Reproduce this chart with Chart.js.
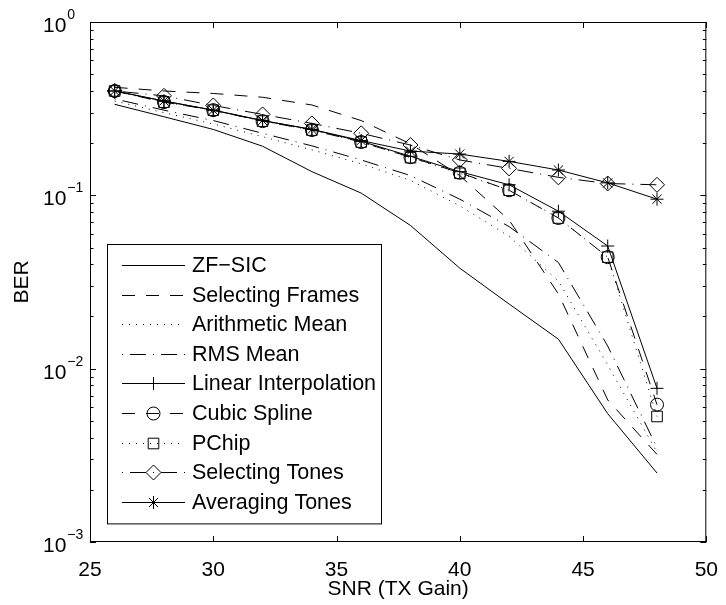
<!DOCTYPE html>
<html>
<head>
<meta charset="utf-8">
<script src="https://cdn.jsdelivr.net/npm/chart.js"></script>
<style>
  html, body { margin: 0; padding: 0; background: #fff; }
  #wrap { width: 726px; height: 605px; }
</style>
</head>
<body>
<div id="wrap"><canvas id="berChart" width="726" height="605"></canvas></div>
<script>
// data
const snr = [26, 28, 30, 32, 34, 36, 38, 40, 42, 44, 46, 48]

const zfSic = [0.335, 0.284, 0.24, 0.192, 0.137, 0.103, 0.067, 0.038, 0.0236, 0.0148, 0.0055, 0.0025]
const selectingFrames = [0.42, 0.40, 0.387, 0.368, 0.332, 0.27, 0.198, 0.13, 0.072, 0.027, 0.0066, 0.0032]
const arithmeticMean = [0.35, 0.30, 0.258, 0.218, 0.183, 0.152, 0.122, 0.087, 0.058, 0.032, 0.0105, 0.0033]
const rmsMean = [0.36, 0.31, 0.27, 0.228, 0.193, 0.16, 0.13, 0.095, 0.066, 0.041, 0.0135, 0.0035]
const linearInterp = [0.40, 0.35, 0.31, 0.27, 0.24, 0.205, 0.168, 0.137, 0.115, 0.081, 0.051, 0.0077]
const cubicSpline = [0.40, 0.345, 0.31, 0.268, 0.238, 0.203, 0.166, 0.135, 0.107, 0.074, 0.044, 0.0062]
const pchip = [0.40, 0.345, 0.31, 0.268, 0.238, 0.203, 0.165, 0.134, 0.107, 0.074, 0.044, 0.0053]
const selectingTones = [0.40, 0.375, 0.33, 0.293, 0.26, 0.228, 0.195, 0.16, 0.143, 0.127, 0.117, 0.115]
const averagingTones = [0.40, 0.35, 0.31, 0.27, 0.24, 0.207, 0.18, 0.173, 0.157, 0.14, 0.118, 0.095]

const seriesNames = [
  'ZF\u2212SIC',
  'Selecting Frames',
  'Arithmetic Mean',
  'RMS Mean',
  'Linear Interpolation',
  'Cubic Spline',
  'PChip',
  'Selecting Tones',
  'Averaging Tones',
]
const seriesValues = [zfSic, selectingFrames, arithmeticMean, rmsMean, linearInterp, cubicSpline, pchip, selectingTones, averagingTones]

const xTicks = [25, 30, 35, 40, 45, 50]
const yDecades = [1, 0.1, 0.01, 0.001]
const yExponents = ['0', '\u22121', '\u22122', '\u22123']

// styles (matlab look)
const FONT = '"Liberation Sans", Arial, Helvetica, sans-serif'
const SOLID = []
const DASH = [13, 11]
const DOT = [1, 6]
const DASHDOT = [1, 7, 16, 7]

const lineStyles = [
  { dash: SOLID, marker: false, radius: 0 },
  { dash: DASH, marker: false, radius: 0 },
  { dash: DOT, marker: false, radius: 0 },
  { dash: DASHDOT, marker: false, radius: 0 },
  { dash: SOLID, marker: 'cross', radius: 6.5 },
  { dash: DASH, marker: 'circle', radius: 6.5 },
  { dash: DOT, marker: 'rect', radius: 7.5 },
  { dash: DASHDOT, marker: 'rectRot', radius: 7.5 },
  { dash: SOLID, marker: 'star', radius: 6.5 },
]

const datasets = seriesNames.map((name, i) => ({
  label: name,
  data: snr.map((x, j) => ({ x: x, y: seriesValues[i][j] })),
  borderColor: '#000',
  borderWidth: 1,
  borderDash: lineStyles[i].dash,
  pointStyle: lineStyles[i].marker || 'circle',
  pointRadius: lineStyles[i].radius,
  pointHoverRadius: lineStyles[i].radius,
  pointBorderColor: '#000',
  pointBackgroundColor: 'rgba(0,0,0,0)',
  pointBorderWidth: 1,
  tension: 0,
  fill: false,
}))

// inward ticks, box, 10^k labels and the legend box
const matlabAxes = {
  id: 'matlabAxes',
  afterDraw: (chart) => {
    const { ctx, chartArea: a, scales } = chart
    const x = scales.x
    const y = scales.y
    ctx.save()
    ctx.strokeStyle = '#000'
    ctx.lineWidth = 1
    ctx.setLineDash([])

    ctx.beginPath()
    xTicks.forEach((v) => {
      const px = Math.round(x.getPixelForValue(v)) + 0.5
      ctx.moveTo(px, a.bottom)
      ctx.lineTo(px, a.bottom - 6)
      ctx.moveTo(px, a.top)
      ctx.lineTo(px, a.top + 6)
    })
    yDecades.forEach((d) => {
      const py = Math.round(y.getPixelForValue(d)) + 0.5
      ctx.moveTo(a.left, py)
      ctx.lineTo(a.left + 6, py)
      ctx.moveTo(a.right, py)
      ctx.lineTo(a.right - 6, py)
      if (d < 1) {
        for (let m = 2; m <= 9; m++) {
          const pm = Math.round(y.getPixelForValue(d * m)) + 0.5
          ctx.moveTo(a.left, pm)
          ctx.lineTo(a.left + 3.5, pm)
          ctx.moveTo(a.right, pm)
          ctx.lineTo(a.right - 3.5, pm)
        }
      }
    })
    ctx.stroke()
    ctx.strokeRect(a.left + 0.5, a.top + 0.5, a.right - a.left - 1, a.bottom - a.top - 1)

    // y tick labels 10^k
    ctx.fillStyle = '#000'
    ctx.textAlign = 'left'
    ctx.textBaseline = 'alphabetic'
    yDecades.forEach((d, i) => {
      const py = y.getPixelForValue(d)
      ctx.font = '21px ' + FONT
      const baseX = a.left - 47
      ctx.fillText('10', baseX, py + 10)
      const w = ctx.measureText('10').width
      ctx.font = '14px ' + FONT
      ctx.fillText(yExponents[i], baseX + w + 1, py - 3)
    })

    // legend
    const lx = a.left + 17
    const ly = a.top + 222
    const lw = 274
    const rowH = 29.6
    const lh = rowH * seriesNames.length + 13
    ctx.fillStyle = '#fff'
    ctx.fillRect(lx, ly, lw, lh)
    ctx.strokeStyle = '#000'
    ctx.lineWidth = 1
    ctx.strokeRect(lx + 0.5, ly + 0.5, lw, lh)

    seriesNames.forEach((name, i) => {
      const ry = Math.round(ly + 21 + i * rowH) + 0.5
      const s = lineStyles[i]
      ctx.setLineDash(s.dash)
      ctx.beginPath()
      ctx.moveTo(lx + 15, ry)
      ctx.lineTo(lx + 78, ry)
      ctx.stroke()
      ctx.setLineDash([])
      if (s.marker && Chart.helpers && Chart.helpers.drawPoint) {
        ctx.fillStyle = 'rgba(0,0,0,0)'
        Chart.helpers.drawPoint(ctx, { pointStyle: s.marker, radius: s.radius, borderWidth: 1, rotation: 0 }, lx + 46.5, ry)
      }
      ctx.fillStyle = '#000'
      ctx.font = '21.5px ' + FONT
      ctx.textBaseline = 'middle'
      ctx.fillText(name, lx + 85, ry + 1)
    })
    ctx.restore()
  },
}

const berChart = new Chart(document.getElementById('berChart'), {
  type: 'line',
  data: { datasets: datasets },
  options: {
    responsive: false,
    animation: false,
    events: [],
    layout: { padding: { top: 22, right: 15, left: 0, bottom: 0 } },
    plugins: {
      legend: { display: false },
      tooltip: { enabled: false },
    },
    scales: {
      x: {
        type: 'linear',
        min: 25,
        max: 50,
        grid: { display: false },
        border: { display: false },
        ticks: {
          stepSize: 5,
          color: '#000',
          padding: 8,
          maxRotation: 0,
          font: { family: FONT, size: 21 },
        },
        title: {
          display: true,
          text: 'SNR (TX Gain)',
          color: '#000',
          font: { family: FONT, size: 21 },
          padding: { top: 0, bottom: 3 },
        },
        afterFit: (scale) => {
          scale.height = 63
        },
      },
      y: {
        type: 'logarithmic',
        min: 0.001,
        max: 1,
        grid: { display: false },
        border: { display: false },
        ticks: { display: false },
        title: {
          display: true,
          text: 'BER',
          color: '#000',
          font: { family: FONT, size: 21 },
          padding: { top: 10, bottom: 0 },
        },
        afterFit: (scale) => {
          scale.width = 90
        },
      },
    },
  },
  plugins: [matlabAxes],
})
</script>
</body>
</html>
